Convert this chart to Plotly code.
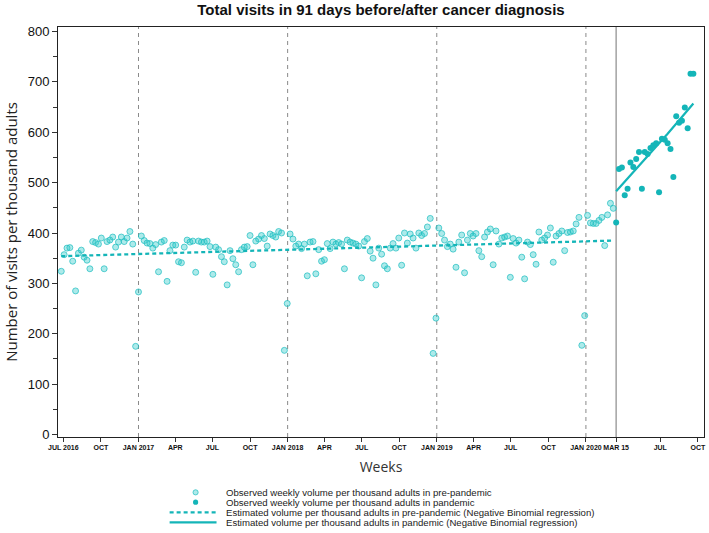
import pandas as pd
import plotly.graph_objects as go

# ---------------- data ----------------
pre_start = "2016-06-26"          # first pre-pandemic week
pan_start = "2020-03-15"          # first pandemic week

pre_values = [
    324, 357, 370, 371, 344, 285, 360, 366, 352, 346,
    329, 383, 381, 378, 390, 329, 383, 386, 392, 372,
    382, 392, 383, 390, 403, 378, 175, 283, 394, 385,
    380, 379, 370, 377, 323, 382, 385, 304,
    365, 376, 376, 343, 341, 372, 386, 382, 384, 322,
    384, 382, 382, 384, 373, 318, 372, 367, 353, 343,
    297, 365, 349, 337, 323, 367, 372, 373, 395, 337,
    384, 388, 395, 389, 374, 398, 395, 392, 403,
    400, 167, 260, 398, 388, 374, 378, 369, 378, 315,
    382, 383, 319, 367, 344, 347, 379, 369, 382, 378,
    381, 378, 329, 386, 382, 380, 378, 374, 311, 383,
    389, 364, 350, 297, 370, 358, 335, 329, 370,
    379, 370, 390, 336, 400, 380, 398, 390, 370, 400,
    395, 399, 412, 429, 161, 231, 410, 399, 386, 373,
    378, 368, 332, 382, 396, 321, 386, 399, 394, 399,
    365, 353, 392, 402, 408, 337, 404, 378, 390,
    392, 394, 312, 389, 380, 386, 352, 309, 382, 377,
    357, 338, 402, 386, 390, 396, 410, 342, 394, 399,
    404, 365, 401, 402, 404, 418, 431, 177, 236, 435,
    420, 419, 419, 425, 431, 375, 436, 459, 449,
]

pan_values = [
    421, 527, 530, 475, 488, 540, 531, 547, 561, 488,
    561, 557, 569, 574, 578, 481, 587, 585, 578, 567,
    511, 632, 619, 623, 649, 608, 716, 716,
]

# fitted curves (week index -> estimated volume)
pre_fit_weeks = [0, 82, 165, 193]
pre_fit_values = [354, 367, 381, 385]
pan_fit_weeks = [0, 9, 18, 27]
pan_fit_values = [483, 539, 597, 657]

year_lines = ["2017-01-01", "2018-01-01", "2019-01-01", "2020-01-01"]
pandemic_line = "2020-03-15"

tick_dates = ["2016-07-01", "2016-10-01", "2017-01-01", "2017-04-01", "2017-07-01",
              "2017-10-01", "2018-01-01", "2018-04-01", "2018-07-01", "2018-10-01",
              "2019-01-01", "2019-04-01", "2019-07-01", "2019-10-01", "2020-01-01",
              "2020-03-15", "2020-07-01", "2020-10-01"]
tick_labels = ["JUL 2016", "OCT", "JAN 2017", "APR", "JUL", "OCT", "JAN 2018", "APR",
               "JUL", "OCT", "JAN 2019", "APR", "JUL", "OCT", "JAN 2020", "MAR 15",
               "JUL", "OCT"]

legend_labels = [
    "Observed weekly volume per thousand adults in pre-pandemic",
    "Observed weekly volume per thousand adults in pandemic",
    "Estimated volume per thousand adults in pre-pandemic (Negative Binomial regression)",
    "Estimated volume per thousand adults in pandemic (Negative Binomial regression)",
]

# ---------------- derived x ----------------
pre_dates = pd.Timestamp(pre_start) + pd.to_timedelta([7 * i for i in range(len(pre_values))], unit="D")
pan_dates = pd.Timestamp(pan_start) + pd.to_timedelta([7 * i for i in range(len(pan_values))], unit="D")
pre_fit_dates = pd.Timestamp(pre_start) + pd.to_timedelta([7 * i for i in pre_fit_weeks], unit="D")
pan_fit_dates = pd.Timestamp(pan_start) + pd.to_timedelta([7 * i for i in pan_fit_weeks], unit="D")

TEAL = "#14B5B8"
PRE_FILL = "rgba(40,200,200,0.38)"
PRE_LINE = "rgba(30,190,192,0.70)"

fig = go.Figure()

fig.add_trace(go.Scatter(
    x=pre_dates, y=pre_values, mode="markers",
    marker=dict(size=6, color=PRE_FILL, line=dict(color=PRE_LINE, width=1)),
    showlegend=False))
fig.add_trace(go.Scatter(
    x=pan_dates, y=pan_values, mode="markers",
    marker=dict(size=6, color=TEAL, line=dict(width=0)),
    showlegend=False))
fig.add_trace(go.Scatter(
    x=pre_fit_dates, y=pre_fit_values, mode="lines",
    line=dict(color=TEAL, width=2.3, dash="4px,3px"), showlegend=False))
fig.add_trace(go.Scatter(
    x=pan_fit_dates, y=pan_fit_values, mode="lines",
    line=dict(color=TEAL, width=2.2), showlegend=False))

for d in year_lines:
    fig.add_shape(type="line", xref="x", yref="paper", x0=d, x1=d, y0=0, y1=1,
                  line=dict(color="#8a8a8a", width=1, dash="4px,4px"), layer="below")
fig.add_shape(type="line", xref="x", yref="paper", x0=pandemic_line, x1=pandemic_line,
              y0=0, y1=1, line=dict(color="#a8a8a8", width=1.6), layer="below")

# ---------------- manual legend (below plot) ----------------
plot_w, plot_h = 648.0, 410.0
row_y = [-0.135, -0.159, -0.184, -0.208]
mx = 0.213
rx, ry = 2.6 / plot_w, 2.6 / plot_h
fig.add_shape(type="circle", xref="paper", yref="paper",
              x0=mx - rx, x1=mx + rx, y0=row_y[0] - ry, y1=row_y[0] + ry,
              fillcolor=PRE_FILL, line=dict(color=PRE_LINE, width=1))
fig.add_shape(type="circle", xref="paper", yref="paper",
              x0=mx - rx, x1=mx + rx, y0=row_y[1] - ry, y1=row_y[1] + ry,
              fillcolor=TEAL, line=dict(color=TEAL, width=0))
fig.add_shape(type="line", xref="paper", yref="paper", x0=0.1728, x1=0.2454,
              y0=row_y[2], y1=row_y[2], line=dict(color=TEAL, width=2.2, dash="4px,3px"))
fig.add_shape(type="line", xref="paper", yref="paper", x0=0.1728, x1=0.2454,
              y0=row_y[3], y1=row_y[3], line=dict(color=TEAL, width=2.2))
for yy, txt in zip(row_y, legend_labels):
    fig.add_annotation(x=0.2577, y=yy, xref="paper", yref="paper", text=txt,
                       showarrow=False, xanchor="left", yanchor="middle",
                       font=dict(family="Liberation Sans", size=9.6, color="#222"))

fig.update_layout(
    width=709, height=533,
    margin=dict(l=58, r=3, t=27, b=96),
    paper_bgcolor="white", plot_bgcolor="white",
    title=dict(text="<b>Total visits in 91 days before/after cancer diagnosis</b>",
               x=0.5, xref="paper", xanchor="center", y=0.981, yref="container", yanchor="middle",
               font=dict(family="Liberation Sans", size=15, color="#111")),
    showlegend=False,
)
fig.update_xaxes(
    type="date", range=["2016-06-18", "2020-10-16"],
    tickvals=tick_dates, ticktext=tick_labels, tickangle=0,
    tickfont=dict(family="Liberation Sans", size=7, color="#111", weight="bold"),
    ticks="outside", ticklen=4, tickcolor="#333",
    showline=True, linecolor="#222", linewidth=1, mirror=True,
    showgrid=False, zeroline=False,
    title=dict(text="Weeks", standoff=11,
               font=dict(family="Open Sans", size=14, color="#333")),
)
fig.update_yaxes(
    range=[-5, 809], tickvals=[0, 100, 200, 300, 400, 500, 600, 700, 800],
    tickfont=dict(family="Liberation Sans", size=13, color="#111"),
    ticks="outside", ticklen=5, tickcolor="#333",
    minor=dict(tickvals=[50, 150, 250, 350, 450, 550, 650, 750], ticks="outside",
               ticklen=4, tickcolor="#333"),
    showline=True, linecolor="#222", linewidth=1, mirror=True,
    showgrid=False, zeroline=False,
    title=dict(text="Number of visits per thousand adults", standoff=6,
               font=dict(family="Open Sans", size=15, color="#222")),
)

fig.write_html("out.html", config={"displayModeBar": False},
               post_script="document.body.style.margin='0px';")
